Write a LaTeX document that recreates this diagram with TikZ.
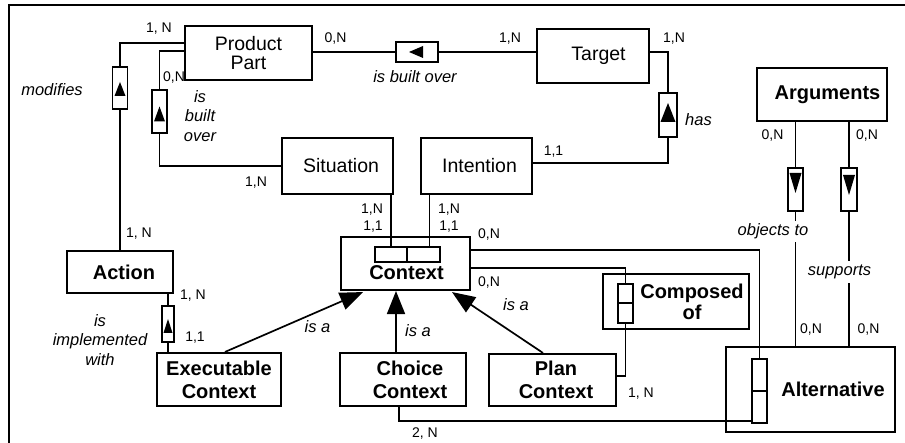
\documentclass[tikz,border=0pt]{standalone}
\usepackage{fontspec}
\setmainfont{Liberation Sans}
\usetikzlibrary{calc,arrows.meta}

\begin{document}
\begin{tikzpicture}[x=1pt,y=-1pt,
  ent/.style={draw, line width=2.1pt, inner sep=0pt, align=center, font=\fontsize{19.5}{19.7}\selectfont},
  bent/.style={draw, line width=2.1pt, inner sep=0pt, align=center, font=\fontsize{20}{23}\selectfont\bfseries},
  rel/.style={draw, line width=1.7pt, inner sep=0pt, fill=white},
  key/.style={draw, line width=1.7pt, inner sep=0pt},
  conn/.style={line width=1.7pt},
  isa/.style={line width=1.7pt, -{Triangle[length=23pt,width=18pt]}},
  card/.style={inner sep=0pt, anchor=base, font=\fontsize{14}{16}\selectfont},
  role/.style={inner sep=0pt, align=center, font=\fontsize{16.5}{19.5}\selectfont\itshape},
]
\useasboundingbox (0,0) rectangle (905,443);
% outer frame (top and left edges)
\draw[line width=2.1pt] (905,5) -- (9,5) -- (9,443);

% entities
\node[ent, minimum width=127pt, minimum height=54pt] (pp) at (248.5,53) {Product\\Part};
\node[ent, minimum width=112pt, minimum height=54pt] (tg) at (593,56) {\hspace*{11pt}Target};
\node[ent, minimum width=111pt, minimum height=56pt] (sit) at (337.5,166) {\hspace*{7pt}Situation};
\node[ent, minimum width=111pt, minimum height=56pt] (int) at (476.5,166) {\hspace*{6pt}Intention};
\node[bent, minimum width=130pt, minimum height=53pt] (arg) at (822,94.5) {\hspace*{11pt}Arguments};
\node[bent, minimum width=129pt, minimum height=53pt] (ctx) at (405.5,263.5) {};
\node[inner sep=0pt, anchor=base, font=\fontsize{20}{23}\selectfont\bfseries] (ctxname) at (406.5,279.3) {Context};
\node[bent, minimum width=106pt, minimum height=42pt] (act) at (120,272) {\hspace*{8pt}Action};
\node[bent, minimum width=124pt, minimum height=53pt] (ex) at (219,379.5) {Executable\\Context};
\node[bent, minimum width=126pt, minimum height=53pt] (ch) at (403,379.5) {\hspace*{14pt}Choice\\\hspace*{14pt}Context};
\node[bent, minimum width=127pt, minimum height=52pt] (plan) at (552.5,380) {\hspace*{7pt}Plan\\\hspace*{7pt}Context};
\node[bent, minimum width=146pt, minimum height=55pt, font=\fontsize{20}{21}\selectfont\bfseries] (comp) at (676,301.5) {\hspace*{32pt}Composed\\\hspace*{32pt}of};
\node[bent, minimum width=169pt, minimum height=85pt] (alt) at (810.5,389.5) {\hspace*{45pt}Alternative};

% key compartments
\node[key, minimum width=32pt, minimum height=15pt] (k1) at (391,254.5) {};
\node[key, minimum width=33pt, minimum height=15pt] (k2) at (423.5,254.5) {};
\node[key, minimum width=15pt, minimum height=19pt] (c1) at (625.5,293.5) {};
\node[key, minimum width=15pt, minimum height=20pt] (c2) at (625.5,313) {};
\node[key, minimum width=15pt, minimum height=32pt] (a1) at (759.5,375) {};
\node[key, minimum width=15pt, minimum height=32pt] (a2) at (759.5,407) {};

% relationship boxes
\node[rel, minimum width=15pt, minimum height=42pt] (mod) at (120,88) {};
\node[rel, minimum width=15pt, minimum height=43pt] (bo1) at (159.5,111.5) {};
\node[rel, minimum width=42pt, minimum height=20pt] (bo2) at (417,52) {};
\node[rel, minimum width=18pt, minimum height=44pt] (hasb) at (668,115) {};
\node[rel, minimum width=12pt, minimum height=36pt] (imp) at (168,324) {};
\node[rel, minimum width=15pt, minimum height=43pt] (ob) at (795.5,189.5) {};
\node[rel, minimum width=16pt, minimum height=43pt] (sp) at (849,189.5) {};

% direction marks
\fill ($(mod.center)+(0,-6)$) -- ($(mod.center)+(5.5,8)$) -- ($(mod.center)+(-5.5,8)$) -- cycle;
\fill ($(bo1.center)+(0,-5)$) -- ($(bo1.center)+(5.5,10)$) -- ($(bo1.center)+(-5.5,10)$) -- cycle;
\fill ($(bo2.center)+(-8,0)$) -- ($(bo2.center)+(6,-6)$) -- ($(bo2.center)+(6,6)$) -- cycle;
\fill ($(hasb.center)+(0,-12)$) -- ($(hasb.center)+(7.5,7)$) -- ($(hasb.center)+(-7.5,7)$) -- cycle;
\fill ($(imp.center)+(0,-5)$) -- ($(imp.center)+(4.5,9)$) -- ($(imp.center)+(-4.5,9)$) -- cycle;
\fill ($(ob.center)+(0,3.5)$) -- ($(ob.center)+(6,-16.5)$) -- ($(ob.center)+(-6,-16.5)$) -- cycle;
\fill ($(sp.center)+(0,5.5)$) -- ($(sp.center)+(6,-14.5)$) -- ($(sp.center)+(-6,-14.5)$) -- cycle;

% connectors
\draw[conn] ($(pp.west)+(0,-10)$) -| (mod.north);
\draw[conn] (mod.south) -- (act.north);
\draw[conn] ($(pp.west)+(0,-2)$) -| (bo1.north);
\draw[conn] (bo1.south) |- (sit.west);
\draw[conn] (bo2.west) -- (bo2.west -| pp.east);
\draw[conn] (bo2.east) -- (bo2.east -| tg.west);
\draw[conn] (hasb.north) |- ($(tg.east)+(0,-4)$);
\draw[conn] (hasb.south) |- ($(int.east)+(0,-3)$);
\draw[conn] (k1.north) -- (k1.north |- sit.south);
\coordinate (kin) at ($(k2.north)+(6,0)$);
\draw[conn] (kin) -- (kin |- int.south);
\draw[conn] ($(ctx.east)+(0,-13.5)$) -| (a1.north);
\draw[conn] ($(ctx.east)+(0,4.5)$) -| (c1.north);
\draw[conn] (c2.south) |- ($(plan.east)+(0,-4)$);
\draw[conn] ($(ch.south)+(-4,0)$) |- ($(a2.south west)+(0,-3)$);
\draw[conn] (ob.north) -- (ob.north |- arg.south);
\draw[conn] (ob.south) -- (ob.south |- alt.north);
\draw[conn] (sp.north) -- (sp.north |- arg.south);
\draw[conn] (sp.south) -- (sp.south |- alt.north);
\draw[conn] (imp.north) -- (imp.north |- act.south);
\draw[conn] (imp.south) -- (imp.south |- ex.north);

% specialisation arrows
\draw[isa] ($(ex.north)+(6,0)$) -- ($(ctx.south)+(-42.5,1)$);
\coordinate (chtop) at ($(ch.north)+(-7,0)$);
\draw[isa] (chtop) -- (chtop |- ctx.south);
\draw[isa] ($(plan.north)+(-9.5,0)$) -- ($(ctx.south)+(46.5,1)$);

% cardinalities
\node[card] (n1) at (159,32.5) {1, N};
\node[card] (n2) at (335.5,43) {0,N};
\node[card] (n3) at (510,43) {1,N};
\node[card] (n4) at (674,43) {1,N};
\node[card] (n5) at (174,81.5) {0,N};
\node[card] (n6) at (256,187) {1,N};
\node[card] (n7) at (553.5,156) {1,1};
\node[card] (n8) at (372,214) {1,N};
\node[card] (n9) at (373,231) {1,1};
\node[card] (n10) at (449,214) {1,N};
\node[card] (n11) at (449,231) {1,1};
\node[card] (n12) at (489,239) {0,N};
\node[card] (n13) at (489,286.5) {0,N};
\node[card] (n14) at (772.5,140) {0,N};
\node[card] (n15) at (867,140) {0,N};
\node[card] (n16) at (811,333.5) {0,N};
\node[card] (n17) at (868.5,333.5) {0,N};
\node[card] (n18) at (139,238) {1, N};
\node[card] (n19) at (193,300) {1, N};
\node[card] (n20) at (195,342) {1,1};
\node[card] (n21) at (641,397.5) {1, N};
\node[card] (n22) at (425,438) {2, N};

% relationship names
\node[role, anchor=base] (r1) at (52,96) {modifies};
\node[role, anchor=base] (r2) at (415,83) {is built over};
\node[role] (r3) at (200,116) {is\\built\\over};
\node[role, anchor=base] (r4) at (698.5,126) {has};
\node[role, anchor=base, fill=white, inner sep=3pt] (r5) at (773,236) {objects to};
\node[role, anchor=base, fill=white, inner sep=4pt] (r6) at (839.5,276) {supports};
\node[role] (r7) at (100,340) {is\\implemented\\with};
\node[role, anchor=base] (r8) at (317.5,332.5) {is a};
\node[role, anchor=base] (r9) at (418,336.5) {is a};
\node[role, anchor=base] (r10) at (516,310.5) {is a};
\end{tikzpicture}
\end{document}
